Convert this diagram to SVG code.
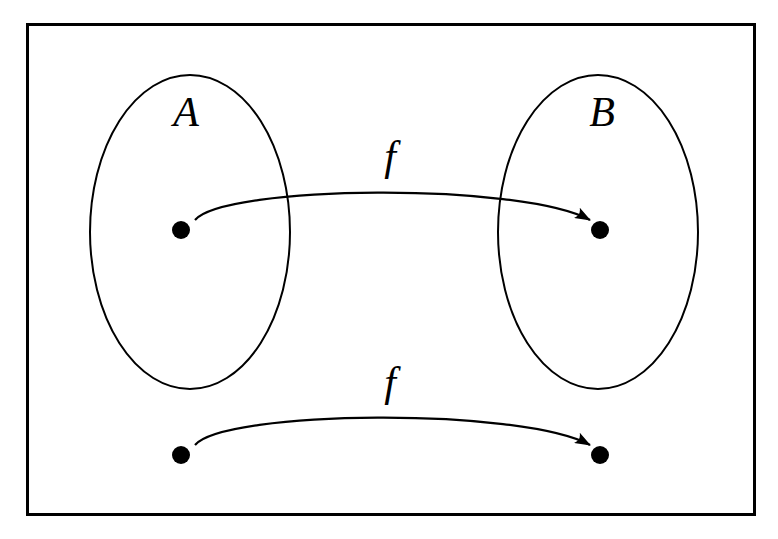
<svg xmlns="http://www.w3.org/2000/svg" width="778" height="539" viewBox="0 0 778 539">
<style>
.set{fill:none;stroke:#000;stroke-width:2}
.dot{fill:#000}
.lbl{font-family:"Liberation Serif","Times New Roman",serif;font-style:italic;font-size:42px;fill:#000;text-anchor:middle}
.arr{fill:none;stroke:#000;stroke-width:2.2}
</style>
<defs>
<marker id="ah" viewBox="0 0 16 12" refX="15" refY="6" markerWidth="16" markerHeight="12" markerUnits="userSpaceOnUse" orient="auto">
<path d="M0,0 Q5,6 0,12 L16,6 Z" fill="#000"/>
</marker>
</defs>
<rect x="27.5" y="24.5" width="727" height="490" fill="#fff" stroke="#000" stroke-width="3"/>
<g id="setA"><ellipse class="set" cx="190" cy="232" rx="100" ry="157"/><text class="lbl" x="186" y="126">A</text></g>
<g id="setB"><ellipse class="set" cx="598" cy="232" rx="100" ry="157"/><text class="lbl" x="602" y="126">B</text></g>
<g id="a1"><circle class="dot" cx="181" cy="230" r="9"/></g>
<g id="b1"><circle class="dot" cx="600" cy="230" r="9"/></g>
<g id="a2"><circle class="dot" cx="181" cy="455" r="9"/></g>
<g id="b2"><circle class="dot" cx="600" cy="455" r="9"/></g>
<g id="connectors">
<path class="arr" d="M195,220 C225,185 520,182 590,220" marker-end="url(#ah)"/>
<path class="arr" d="M195,445 C225,410 520,407 590,445" marker-end="url(#ah)"/>
<text class="lbl" x="390" y="170">f</text>
<text class="lbl" x="390" y="396">f</text>
</g>
</svg>
